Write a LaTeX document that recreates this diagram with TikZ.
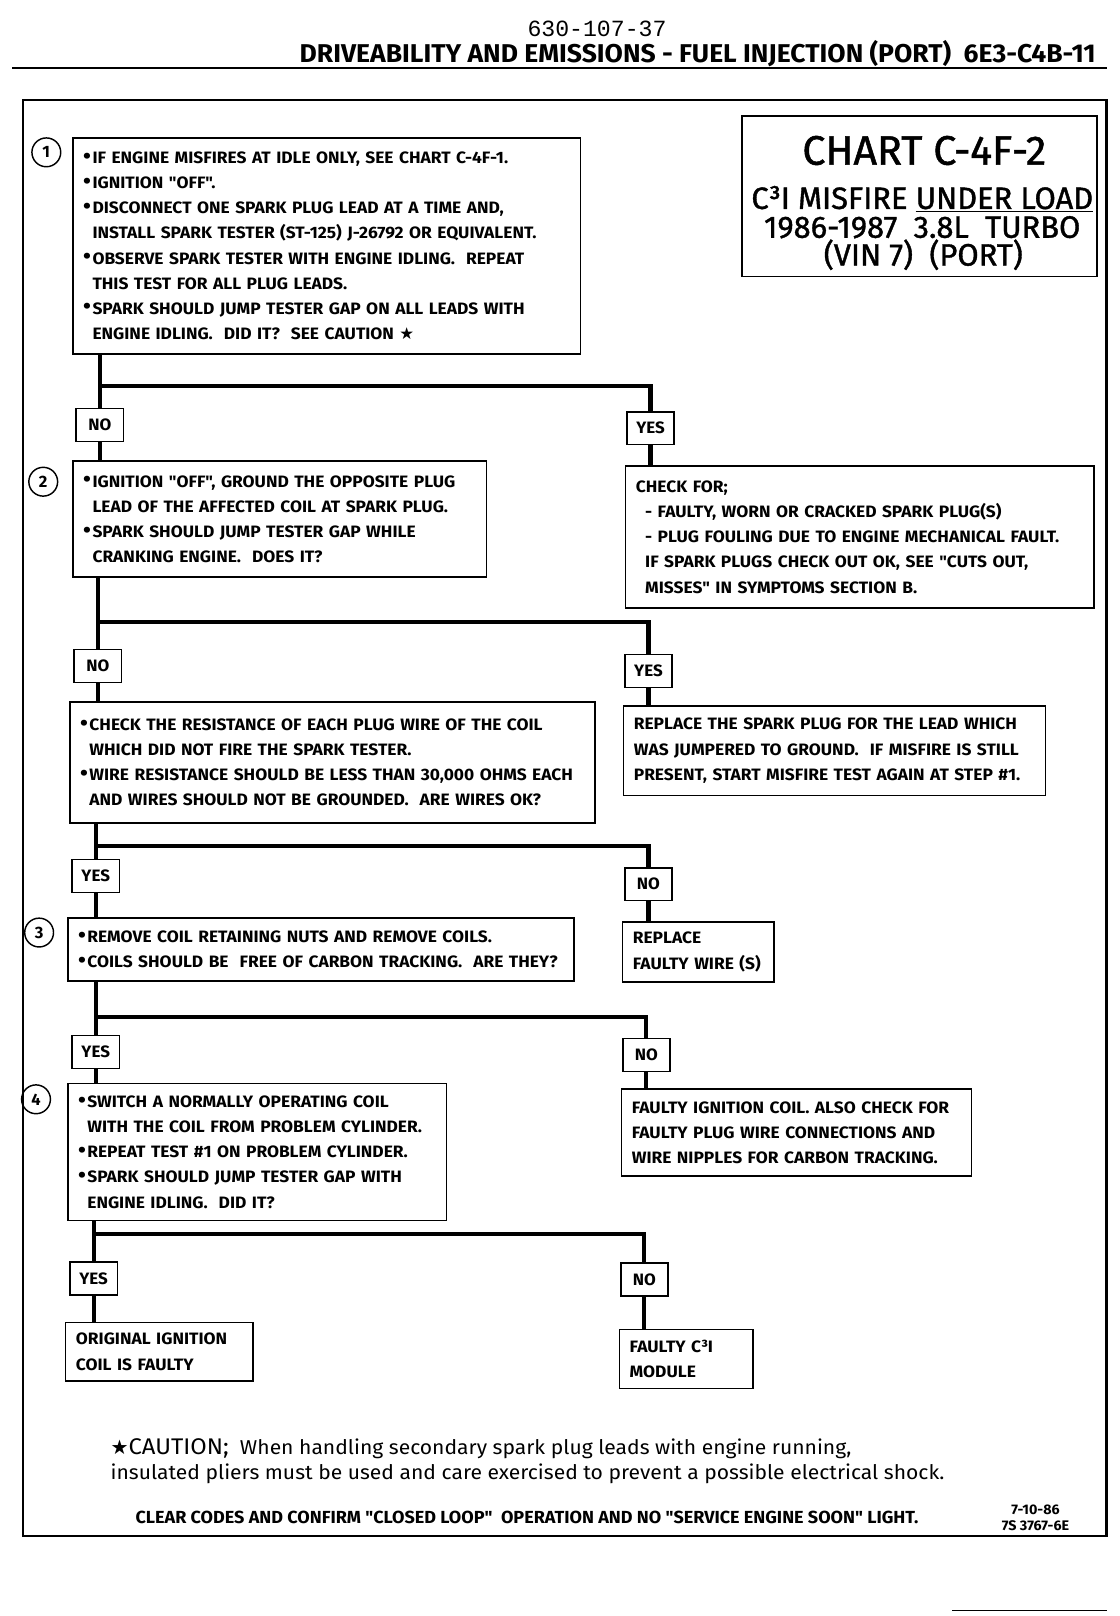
\documentclass[tikz,border=0pt]{standalone}
\usepackage{fontspec}
\usepackage{graphicx}
\setmainfont{Fira Sans}
\newfontfamily\condfont{Fira Sans}[FakeStretch=1.03]
\newfontfamily\bodyfont{Fira Sans}[FakeStretch=1.055]
\newfontfamily\titlefont{Fira Sans}[FakeBold=1.2]
\newfontfamily\cautionfont{Fira Sans}[FakeStretch=1.05]
\newfontfamily\codefont{Liberation Mono}
\newfontfamily\symfont{DejaVu Sans}
\usetikzlibrary{positioning}
\newcommand{\bul}{\raisebox{0.3pt}{\scalebox{1.3}{\textbullet}}\hspace{1.5pt}}
\newcommand{\indl}{\hphantom{\bul}}
\tikzset{
  box/.style={draw, line width=1.6pt, inner xsep=10pt, inner ysep=0pt, align=left,
    anchor=north west, font=\bodyfont\bfseries\fontsize{16}{24.4}\selectfont},
  answer/.style={draw, line width=1.6pt, fill=white, minimum width=46pt, minimum height=32pt,
    inner sep=0pt, font=\condfont\bfseries\fontsize{16}{18}\selectfont},
  stepnum/.style={circle, draw, line width=1.4pt, minimum size=28pt, inner sep=0pt,
    font=\bfseries\fontsize{16}{18}\selectfont},
  flow/.style={line width=4pt}
}
\begin{document}
\begin{tikzpicture}[x=1pt,y=-1pt]
\useasboundingbox (0,0) rectangle (1088,1570);
% page header
\node[font=\codefont\fontsize{22.5}{24}\selectfont] (code) at (580,28) {630-107-37};
\node[anchor=base east, font=\condfont\bfseries\fontsize{25}{28}\selectfont] (head) at (1068,61)
  {DRIVEABILITY AND EMISSIONS - FUEL INJECTION (PORT)\ \ 6E3-C4B-11};
\draw [line width=2pt] (12,66) -- (1075,66);
\draw [line width=2pt] (22,97) rectangle (1075,1492);
\draw [line width=1pt] (925,1565) -- (1075,1565);
% chart title
\node[draw, line width=1.6pt, minimum width=345pt, minimum height=156pt, inner sep=0pt, anchor=north west] (chart) at (720,112) {};
\node[anchor=base, font=\titlefont\fontsize{40}{42}\selectfont] (ttl1) at (898,160) {CHART C-4F-2};
\node[anchor=base, font=\titlefont\fontsize{30}{32}\selectfont] (ttl2) at (896,203) {C³I MISFIRE \underline{UNDER LOAD}};
\node[anchor=base, font=\titlefont\fontsize{30}{32}\selectfont] (ttl3) at (896,231) {1986-1987\ \ 3.8L\ \ TURBO};
\node[anchor=base, font=\titlefont\fontsize{30}{32}\selectfont] (ttl4) at (897,258) {(VIN 7)\ \ (PORT)};
% step numbers
\node[stepnum] (n1) at (45,148) {1};
\node[stepnum] (n2) at (42,468) {2};
\node[stepnum] (n3) at (38,906) {3};
\node[stepnum] (n4) at (35,1068) {4};
% boxes
\node[box, text width=473pt, minimum height=210pt] (s1) at (70,133) {%
\bul IF ENGINE MISFIRES AT IDLE ONLY, SEE CHART C-4F-1.\\
\bul IGNITION "OFF".\\
\bul DISCONNECT ONE SPARK PLUG LEAD AT A TIME AND,\\
\indl INSTALL SPARK TESTER (ST-125)\ J-26792 OR EQUIVALENT.\\
\bul OBSERVE SPARK TESTER WITH ENGINE IDLING.\ \ REPEAT\\
\indl THIS TEST FOR ALL PLUG LEADS.\\
\bul SPARK SHOULD JUMP TESTER GAP ON ALL LEADS WITH\\
\indl ENGINE IDLING.\ \ DID IT?\ \ SEE CAUTION {\symfont ★}};
\node[box, text width=382pt, minimum height=113pt] (s2) at (70,447) {%
\bul IGNITION "OFF", GROUND THE OPPOSITE PLUG\\
\indl LEAD OF THE AFFECTED COIL AT SPARK PLUG.\\
\bul SPARK SHOULD JUMP TESTER GAP WHILE\\
\indl CRANKING ENGINE.\ \ DOES IT?};
\node[box, text width=435pt, minimum height=138pt] (ck) at (607,452) {%
CHECK FOR;\\
\hspace*{9pt}- FAULTY, WORN OR CRACKED SPARK PLUG(S)\\
\hspace*{9pt}- PLUG FOULING DUE TO ENGINE MECHANICAL FAULT.\\
\hspace*{9pt}IF SPARK PLUGS CHECK OUT OK, SEE "CUTS OUT,\\
\hspace*{9pt}MISSES" IN SYMPTOMS SECTION B.};
\node[box, text width=490pt, minimum height=118pt] (wr) at (67,681) {%
\bul CHECK THE RESISTANCE OF EACH PLUG WIRE OF THE COIL\\
\indl WHICH DID NOT FIRE THE SPARK TESTER.\\
\bul WIRE RESISTANCE SHOULD BE LESS THAN 30,000 OHMS EACH\\
\indl AND WIRES SHOULD NOT BE GROUNDED.\ \ ARE WIRES OK?};
\node[box, text width=390pt, minimum height=87pt] (rp) at (605,685) {%
REPLACE THE SPARK PLUG FOR THE LEAD WHICH\\
WAS JUMPERED TO GROUND.\ \ IF MISFIRE IS STILL\\
PRESENT, START MISFIRE TEST AGAIN AT STEP \#1.};
\node[box, text width=472pt, minimum height=61pt] (s3) at (65,891) {%
\bul REMOVE COIL RETAINING NUTS AND REMOVE COILS.\\
\bul COILS SHOULD BE\ \ FREE OF CARBON TRACKING.\ \ ARE THEY?};
\node[box, text width=127pt, minimum height=58pt] (fw) at (604,895) {%
REPLACE\\
FAULTY WIRE (S)};
\node[box, text width=348pt, minimum height=133pt] (s4) at (65,1052) {%
\bul SWITCH A NORMALLY OPERATING COIL\\
\indl WITH THE COIL FROM PROBLEM CYLINDER.\\
\bul REPEAT TEST \#1 ON PROBLEM CYLINDER.\\
\bul SPARK SHOULD JUMP TESTER GAP WITH\\
\indl ENGINE IDLING.\ \ DID IT?};
\node[box, text width=320pt, minimum height=85pt] (fc) at (603,1057) {%
FAULTY IGNITION COIL.\ ALSO CHECK FOR\\
FAULTY PLUG WIRE CONNECTIONS AND\\
WIRE NIPPLES FOR CARBON TRACKING.};
\node[box, text width=162pt, minimum height=57pt] (oc) at (63,1284) {%
ORIGINAL IGNITION\\
COIL IS FAULTY};
\node[box, text width=110pt, minimum height=57pt] (md) at (601,1291) {%
FAULTY C³I\\
MODULE};
% answers
\node[answer] (no1) at (97,413) {NO};
\node[answer] (yes1) at (632,416) {YES};
\node[answer] (no2) at (95,647) {NO};
\node[answer] (yes2) at (630,652) {YES};
\node[answer] (yes3) at (93,851) {YES};
\node[answer] (no3) at (630,859) {NO};
\node[answer] (yes4) at (93,1022) {YES};
\node[answer] (no4) at (628,1025) {NO};
\node[answer] (yes5) at (91,1242) {YES};
\node[answer] (no5) at (626,1243) {NO};
% branch points
\coordinate (j1) at (97,375);
\coordinate (j2) at (95,604);
\coordinate (j3) at (93,822);
\coordinate (j4) at (93,988);
\coordinate (j5) at (91,1199);
% connectors
\draw [flow] (s1.south -| j1) -- (no1.north);
\draw [flow] (j1) -| (yes1.north);
\draw [flow] (no1.south) -- (s2.north -| no1.south);
\draw [flow] (yes1.south) -- (ck.north -| yes1.south);
\draw [flow] (s2.south -| j2) -- (no2.north);
\draw [flow] (j2) -| (yes2.north);
\draw [flow] (no2.south) -- (wr.north -| no2.south);
\draw [flow] (yes2.south) -- (rp.north -| yes2.south);
\draw [flow] (wr.south -| j3) -- (yes3.north);
\draw [flow] (j3) -| (no3.north);
\draw [flow] (yes3.south) -- (s3.north -| yes3.south);
\draw [flow] (no3.south) -- (fw.north -| no3.south);
\draw [flow] (s3.south -| j4) -- (yes4.north);
\draw [flow] (j4) -| (no4.north);
\draw [flow] (yes4.south) -- (s4.north -| yes4.south);
\draw [flow] (no4.south) -- (fc.north -| no4.south);
\draw [flow] (s4.south -| j5) -- (yes5.north);
\draw [flow] (j5) -| (no5.north);
\draw [flow] (yes5.south) -- (oc.north -| yes5.south);
\draw [flow] (no5.south) -- (md.north -| no5.south);
% caution and footer
\node[anchor=base west, align=left, font=\cautionfont\fontsize{19.5}{24}\selectfont] (caution) at (104,1437)
  {{\symfont ★}{\fontsize{22}{24}\selectfont CAUTION;}\ \ When handling secondary spark plug leads with engine running,\\
   insulated pliers must be used and care exercised to prevent a possible electrical shock.};
\node[font=\condfont\bfseries\fontsize{17}{19}\selectfont] (clear) at (512,1474)
  {CLEAR CODES AND CONFIRM "CLOSED LOOP"\ \ OPERATION AND NO "SERVICE ENGINE SOON" LIGHT.};
\node[align=center, font=\condfont\bfseries\fontsize{13.5}{15.5}\selectfont] (date) at (1006,1475) {7-10-86\\7S 3767-6E};
\end{tikzpicture}
\end{document}
